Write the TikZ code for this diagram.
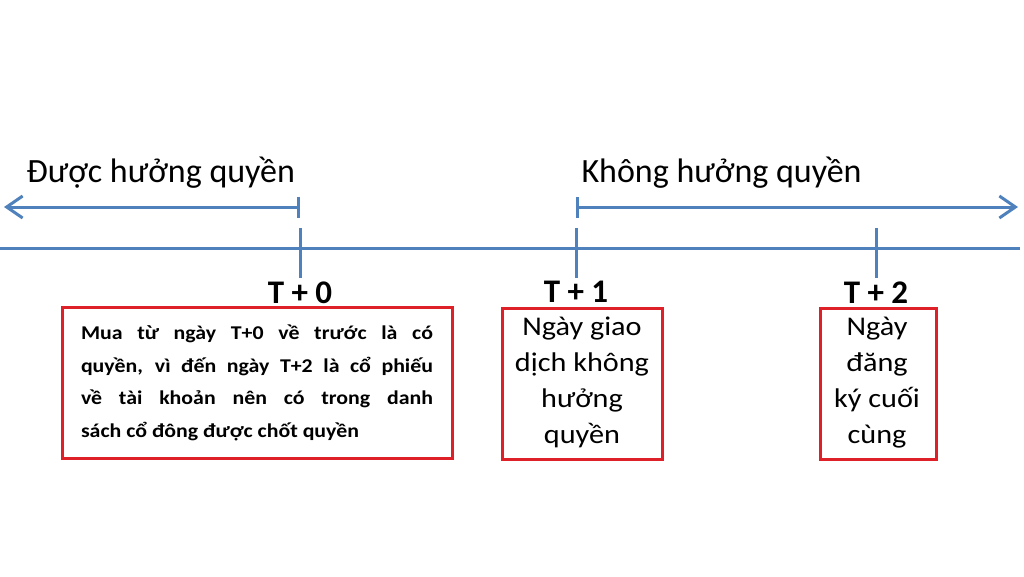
\documentclass[tikz,border=0pt]{standalone}
\usepackage{fontspec}
\setmainfont{Carlito}
\newfontfamily\widefont[FakeStretch=1.12]{Carlito}
\usetikzlibrary{arrows.meta}
\definecolor{lineblue}{RGB}{79,129,189}
\definecolor{boxred}{RGB}{222,32,40}

\begin{document}
\begin{tikzpicture}[x=1pt, y=-1pt, line width=3pt,
    axis/.style={lineblue},
    barbarrow/.style={axis, {Bar[width=21pt]}-{Straight Barb[length=16pt, width=22pt, line width=3pt]}},
    redbox/.style={draw=boxred, line width=3pt, inner sep=0pt, minimum height=151pt},
    boxtext/.style={font=\widefont\fontsize{27}{36}\selectfont, align=center}]

        \useasboundingbox (0, 0) rectangle (1024, 576);

        \node[anchor=west, inner sep=0pt, font=\fontsize{34}{36}\selectfont] (inright) at (25, 173) {Được hưởng quyền};
        \node[anchor=west, inner sep=0pt, font=\fontsize{34}{36}\selectfont] (outright) at (580, 173) {Không hưởng quyền};

        \coordinate (lbar) at (300, 207);
        \coordinate (ltip) at (4, 207);
        \coordinate (rbar) at (576, 207);
        \coordinate (rtip) at (1018, 207);
        \draw[barbarrow] (lbar) -- (ltip);
        \draw[barbarrow] (rbar) -- (rtip);

        \coordinate (lineleft) at (0, 248);
        \coordinate (lineright) at (1020, 248);
        \draw[axis] (lineleft) -- (lineright);

        \foreach \x/\i in {300/0, 576/1, 876/2} {
            \draw[axis] (\x, 228) -- (\x, 278) node[below, black, inner sep=2pt, font=\bfseries\fontsize{33}{33}\selectfont] (t\i) {T + \i};
        }

        \node[redbox, minimum width=390pt] (box0) at (257, 383) {};
        \node[text width=352pt, align=justify, inner sep=0pt, font=\widefont\bfseries\fontsize{19.5}{32.5}\selectfont] (note0) at (box0.center) {Mua từ ngày T+0 về trước là có\linebreak quyền, vì đến ngày T+2 là cổ phiếu\linebreak về tài khoản nên có trong danh\linebreak sách cổ đông được chốt quyền};

        \node[redbox, minimum width=160pt] (box1) at (582, 384) {};
        \node[boxtext] (note1) at (582, 382) {Ngày giao\\dịch không\\hưởng\\quyền};

        \node[redbox, minimum width=116pt] (box2) at (878, 384) {};
        \node[boxtext] (note2) at (877, 383) {Ngày\\đăng\\ký cuối\\cùng};
    \end{tikzpicture}
\end{document}
